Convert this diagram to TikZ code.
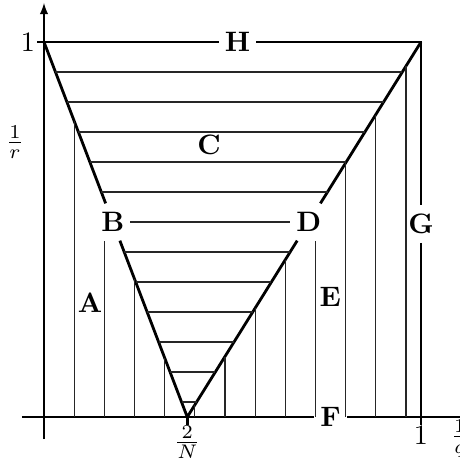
\documentclass[tikz,border=0pt]{standalone}
\begin{document}
\begin{tikzpicture}[x=4.7125cm, y=4.6875cm,
  bordo/.style={line width=1pt},
  gradino/.style={line width=0.4pt, black!85},
  lettera/.style={font=\bfseries, inner xsep=2pt, inner ysep=3pt}]
  \useasboundingbox (-0.1167,-0.1413) rectangle (1.1008,1.112);
  \def\apice{0.38}

  % punti
  \coordinate (O) at (0,0);
  \coordinate (TL) at (0,1);
  \coordinate (TR) at (1,1);
  \coordinate (BR) at (1,0);
  \coordinate (P) at (\apice,0);
  \coordinate (v2) at (0.16,0);
  \coordinate (v9) at (0.72,0);
  \coordinate (xs) at (-0.0584,0);
  \coordinate (xe) at (1.14,0);
  \coordinate (ys) at (0,-0.0587);
  \coordinate (ye) at (0,1.104);

  % lettere
  \node[lettera] (H) at (0.513,1) {H};
  \node[lettera] (G) at (1,0.515) {G};
  \node[lettera] (F) at (0.76,0) {F};
  \node[lettera] (B) at ({\apice*0.48},0.52) {B};
  \node[lettera] (D) at ({\apice+(1-\apice)*0.52},0.52) {D};
  \node[lettera] (C) at (0.438,0.725) {C};
  \node[lettera] (A) at (0.122,0.304) {A};
  \node[lettera] (E) at (0.759,0.32) {E};

  % assi
  \draw (xs) -- (O);
  \draw[-latex] (BR) -- (xe);
  \draw (ys) -- (O);
  \draw[-latex] (TL) -- (ye);

  % tacche
  \draw[bordo] (TL) -- ++(-0.019,0);
  \draw[bordo] (P) -- ++(0,-0.02);
  \draw[bordo] (BR) -- ++(0,-0.02);

  % etichette assi
  \node (l1) at (-0.0424,1) {$1$};
  \node (lr) at (-0.077,0.733) {$\frac{1}{r}$};
  \node (lN) at (\apice,-0.067) {$\frac{2}{N}$};
  \node (lx1) at (1,-0.05) {$1$};
  \node (lq) at (1.103,-0.058) {$\frac{1}{q}$};

  % bordi
  \draw[bordo] (O) -- (TL) -- (H) -- (TR) -- (G) -- (BR);
  \draw[bordo] (O) -- (F);
  \draw[bordo] (F) -- (BR);

  % V
  \draw[bordo] (TL) -- (B) -- (P) -- (D) -- (TR);

  % gradini orizzontali
  \draw[gradino] (B) -- (D);
  \foreach \k in {1,2,3,4,5,7,8,9,10,11,12} {
    \pgfmathsetmacro\yk{1-0.08*\k}
    \draw[gradino] ({\apice*(1-\yk)},\yk) -- ({\apice+(1-\apice)*\yk},\yk);
  }

  % gradini verticali
  \foreach \k in {1,3,4} {
    \pgfmathsetmacro\xk{0.08*\k}
    \draw[gradino] (\xk,0) -- (\xk,{1-\xk/\apice});
  }
  \foreach \k in {5,6,7,8,10,11,12} {
    \pgfmathsetmacro\xk{0.08*\k}
    \draw[gradino] (\xk,0) -- (\xk,{(\xk-\apice)/(1-\apice)});
  }
  \draw[gradino] (v2) -- (v2 |- B.south);
  \draw[gradino] (v9) -- (v9 |- D.south);
\end{tikzpicture}
\end{document}
